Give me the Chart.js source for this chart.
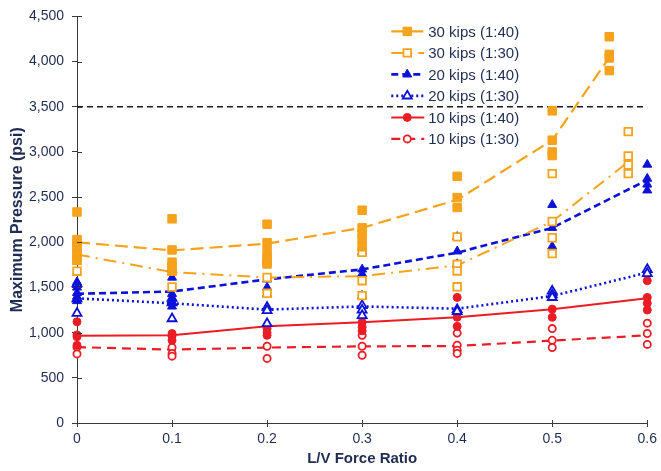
<!DOCTYPE html>
<html>
<head>
<meta charset="utf-8">
<script src="https://cdn.jsdelivr.net/npm/chart.js@4.4.1/dist/chart.umd.min.js"></script>
<style>
  html, body { margin: 0; padding: 0; background: #ffffff; }
  canvas { display: block; }
</style>
</head>
<body>
<canvas id="chart" width="661" height="471"></canvas>
<script>
// Axis ticks
const xTickValues = [0, 0.1, 0.2, 0.3, 0.4, 0.5, 0.6];
const xTickLabels = ['0', '0.1', '0.2', '0.3', '0.4', '0.5', '0.6'];
const yTickValues = [0, 500, 1000, 1500, 2000, 2500, 3000, 3500, 4000, 4500];

// Allowable pressure limit (psi)
const limitPressure = 3500;

// Measured maximum pressures: [L/V ratio, psi]
const k30r40Points = [
  [0, 2335], [0, 2030], [0, 1985], [0, 1940], [0, 1860], [0, 1800],
  [0.1, 2260], [0.1, 1915], [0.1, 1780], [0.1, 1730], [0.1, 1680],
  [0.2, 2200], [0.2, 1995], [0.2, 1900], [0.2, 1830], [0.2, 1760],
  [0.3, 2355], [0.3, 2160], [0.3, 2100], [0.3, 2040], [0.3, 1950],
  [0.4, 2730], [0.4, 2495], [0.4, 2385],
  [0.5, 3455], [0.5, 3130], [0.5, 3000], [0.5, 2960],
  [0.56, 4275], [0.56, 4080], [0.56, 4040], [0.56, 3900]
];
const k30r30Points = [
  [0, 1900], [0, 1800], [0, 1680],
  [0.1, 1680], [0.1, 1505],
  [0.2, 1790], [0.2, 1610], [0.2, 1435],
  [0.3, 1890], [0.3, 1575], [0.3, 1410],
  [0.4, 2060], [0.4, 1756], [0.4, 1683], [0.4, 1507],
  [0.5, 2760], [0.5, 2230], [0.5, 2050], [0.5, 1875],
  [0.58, 3225], [0.58, 2955], [0.58, 2855], [0.58, 2760]
];
const k20r40Points = [
  [0, 1560], [0, 1500], [0, 1440], [0, 1400], [0, 1350],
  [0.1, 1610], [0.1, 1430], [0.1, 1380], [0.1, 1340], [0.1, 1290],
  [0.2, 1790], [0.2, 1590], [0.2, 1500], [0.2, 1430],
  [0.3, 1890], [0.3, 1700], [0.3, 1650], [0.3, 1410],
  [0.4, 2060], [0.4, 1900], [0.4, 1760],
  [0.5, 2415], [0.5, 2160], [0.5, 1955],
  [0.6, 2860], [0.6, 2705], [0.6, 2640], [0.6, 2575]
];
const k20r30Points = [
  [0, 1540], [0, 1375], [0, 1215],
  [0.1, 1380], [0.1, 1330], [0.1, 1155],
  [0.2, 1280], [0.2, 1245], [0.2, 1100],
  [0.3, 1300], [0.3, 1250], [0.3, 1190],
  [0.4, 1255], [0.4, 1235],
  [0.5, 1460], [0.5, 1420], [0.5, 1390],
  [0.6, 1700], [0.6, 1655]
];
const k10r40Points = [
  [0, 1120], [0, 975], [0, 955], [0, 860],
  [0.1, 990], [0.1, 960], [0.1, 915],
  [0.2, 1045], [0.2, 1000], [0.2, 970],
  [0.3, 1115], [0.3, 1060], [0.3, 1020],
  [0.4, 1390], [0.4, 1170], [0.4, 1070],
  [0.5, 1260], [0.5, 1170],
  [0.6, 1575], [0.6, 1390], [0.6, 1325], [0.6, 1250]
];
const k10r30Points = [
  [0, 840], [0, 765],
  [0.1, 835], [0.1, 770], [0.1, 740],
  [0.2, 850], [0.2, 715],
  [0.3, 970], [0.3, 850], [0.3, 750],
  [0.4, 995], [0.4, 860], [0.4, 805], [0.4, 770],
  [0.5, 1045], [0.5, 915], [0.5, 835],
  [0.6, 1105], [0.6, 990], [0.6, 870]
];

// Trend lines through each load group
const k30r40TrendX = [0, 0.1, 0.2, 0.3, 0.4, 0.5, 0.56];
const k30r40TrendY = [2000, 1910, 1985, 2160, 2470, 3130, 4045];
const k30r30TrendX = [0, 0.1, 0.2, 0.3, 0.4, 0.5, 0.58];
const k30r30TrendY = [1865, 1670, 1610, 1625, 1745, 2230, 2890];
const k20r40TrendX = [0, 0.1, 0.2, 0.3, 0.4, 0.5, 0.6];
const k20r40TrendY = [1430, 1455, 1590, 1700, 1885, 2160, 2690];
const k20r30TrendX = [0, 0.1, 0.2, 0.3, 0.4, 0.5, 0.6];
const k20r30TrendY = [1380, 1325, 1255, 1290, 1265, 1405, 1665];
const k10r40TrendX = [0, 0.1, 0.2, 0.3, 0.4, 0.5, 0.6];
const k10r40TrendY = [965, 970, 1070, 1115, 1170, 1260, 1380];
const k10r30TrendX = [0, 0.1, 0.2, 0.3, 0.4, 0.5, 0.6];
const k10r30TrendY = [840, 812, 835, 848, 852, 912, 970];

// Series labels
const seriesLabels = ['30 kips (1:40)', '30 kips (1:30)', '20 kips (1:40)', '20 kips (1:30)', '10 kips (1:40)', '10 kips (1:30)'];

const ORANGE = '#f5a21c';
const BLUE = '#0c12d8';
const RED = '#ec1c24';
const TEXT = '#1f2c52';
const AXIS = '#3a3a3a';

const toXY = pairs => pairs.map(p => ({ x: p[0], y: p[1] }));
const zipXY = (xs, ys) => xs.map((x, i) => ({ x: x, y: ys[i] }));

const series = [
  { label: seriesLabels[0], points: k30r40Points, tx: k30r40TrendX, ty: k30r40TrendY,
    color: ORANGE, marker: 'rect', radius: 6, filled: true, dash: [13, 6], width: 2.2 },
  { label: seriesLabels[1], points: k30r30Points, tx: k30r30TrendX, ty: k30r30TrendY,
    color: ORANGE, marker: 'rect', radius: 5.4, filled: false, dash: [13, 6, 2, 6], width: 2 },
  { label: seriesLabels[2], points: k20r40Points, tx: k20r40TrendX, ty: k20r40TrendY,
    color: BLUE, marker: 'triangle', radius: 5.2, filled: true, dash: [7, 4], width: 2.6 },
  { label: seriesLabels[3], points: k20r30Points, tx: k20r30TrendX, ty: k20r30TrendY,
    color: BLUE, marker: 'triangle', radius: 5.2, filled: false, dash: [2, 3], width: 2.6 },
  { label: seriesLabels[4], points: k10r40Points, tx: k10r40TrendX, ty: k10r40TrendY,
    color: RED, marker: 'circle', radius: 4, filled: true, dash: [], width: 2 },
  { label: seriesLabels[5], points: k10r30Points, tx: k10r30TrendX, ty: k10r30TrendY,
    color: RED, marker: 'circle', radius: 3.6, filled: false, dash: [9, 6], width: 2.2 }
];

const datasets = [];
series.forEach((s, i) => {
  datasets.push({
    label: s.label,
    data: toXY(s.points),
    showLine: false,
    clip: false,
    pointStyle: s.marker,
    pointRadius: s.radius,
    pointHoverRadius: s.radius,
    pointBackgroundColor: s.filled ? s.color : '#ffffff',
    pointBorderColor: s.color,
    pointBorderWidth: s.filled ? 1 : 1.8,
    order: i
  });
  datasets.push({
    label: s.label + ' trend',
    data: zipXY(s.tx, s.ty),
    showLine: true,
    clip: false,
    borderColor: s.color,
    borderWidth: s.width,
    borderDash: s.dash,
    pointRadius: 0,
    fill: false,
    tension: 0,
    order: 10 + i
  });
});
datasets.push({
  label: 'limit',
  data: [{ x: xTickValues[0], y: limitPressure }, { x: xTickValues[xTickValues.length - 1], y: limitPressure }],
  showLine: true,
  borderColor: '#1a1a1a',
  borderWidth: 1.5,
  borderDash: [6, 4],
  pointRadius: 0,
  order: 30
});

function drawMarker(ctx, s, x, y) {
  ctx.save();
  ctx.setLineDash([]);
  ctx.fillStyle = s.filled ? s.color : '#ffffff';
  ctx.strokeStyle = s.color;
  ctx.lineWidth = s.filled ? 1 : 1.8;
  if (Chart.helpers && Chart.helpers.drawPoint) {
    Chart.helpers.drawPoint(ctx, { pointStyle: s.marker, radius: s.radius, borderWidth: ctx.lineWidth, rotation: 0 }, x, y);
  }
  ctx.restore();
}

// Legend with line sample + marker, placed inside the plot area
const insideLegend = {
  id: 'insideLegend',
  afterDraw(chart) {
    const ctx = chart.ctx;
    const area = chart.chartArea;
    const left = area.right - 256;
    const top = area.top + 15;
    const rowH = 21.5;
    ctx.save();
    ctx.font = '15px "Liberation Sans", Arial, sans-serif';
    ctx.textBaseline = 'middle';
    ctx.textAlign = 'left';
    series.forEach((s, i) => {
      const y = top + i * rowH;
      ctx.save();
      ctx.strokeStyle = s.color;
      ctx.lineWidth = s.width;
      ctx.setLineDash(s.dash);
      ctx.beginPath();
      ctx.moveTo(left, y);
      ctx.lineTo(left + 33, y);
      ctx.stroke();
      ctx.restore();
      drawMarker(ctx, s, left + 16, y);
      ctx.fillStyle = TEXT;
      ctx.fillText(s.label, left + 37, y + 1);
    });
    ctx.restore();
  }
};

// Tick marks that cross the axis lines
const crossTicks = {
  id: 'crossTicks',
  afterDraw(chart) {
    const ctx = chart.ctx;
    const xs = chart.scales.x, ys = chart.scales.y;
    const area = chart.chartArea;
    ctx.save();
    ctx.strokeStyle = AXIS;
    ctx.lineWidth = 1;
    ctx.beginPath();
    yTickValues.forEach(v => {
      const py = Math.round(ys.getPixelForValue(v)) + 0.5;
      ctx.moveTo(area.left, py);
      ctx.lineTo(area.left + 5, py);
    });
    xTickValues.forEach(v => {
      const px = Math.round(xs.getPixelForValue(v)) + 0.5;
      ctx.moveTo(px, area.bottom);
      ctx.lineTo(px, area.bottom - 3);
    });
    ctx.stroke();
    ctx.restore();
  }
};

new Chart(document.getElementById('chart'), {
  type: 'scatter',
  data: { datasets: datasets },
  options: {
    responsive: false,
    animation: false,
    devicePixelRatio: 1,
    layout: { padding: { top: 13, right: 10, left: 0, bottom: 0 } },
    plugins: {
      legend: { display: false },
      tooltip: { enabled: false }
    },
    scales: {
      x: {
        type: 'linear',
        min: 0,
        max: 0.6,
        afterBuildTicks: scale => { scale.ticks = xTickValues.map(v => ({ value: v })); },
        afterFit: scale => { scale.height = 48; },
        ticks: {
          color: TEXT,
          font: { family: '"Liberation Sans", Arial, sans-serif', size: 14 },
          padding: 4,
          callback: (v, i) => xTickLabels[i]
        },
        grid: { display: true, drawOnChartArea: false, drawTicks: true, tickLength: 4, color: AXIS },
        border: { display: true, color: AXIS, width: 1 },
        title: {
          display: true,
          text: 'L/V Force Ratio',
          color: TEXT,
          font: { family: '"Liberation Sans", Arial, sans-serif', size: 15, weight: 'bold' },
          padding: { top: 0, bottom: 3 }
        }
      },
      y: {
        type: 'linear',
        min: 0,
        max: 4500,
        afterBuildTicks: scale => { scale.ticks = yTickValues.map(v => ({ value: v })); },
        afterFit: scale => { scale.width = 77; },
        ticks: {
          color: TEXT,
          font: { family: '"Liberation Sans", Arial, sans-serif', size: 14 },
          padding: 8,
          callback: v => v.toLocaleString('en-US')
        },
        grid: { display: true, drawOnChartArea: false, drawTicks: true, tickLength: 5, color: AXIS },
        border: { display: true, color: AXIS, width: 1 },
        title: {
          display: true,
          text: 'Maximum Pressure (psi)',
          color: TEXT,
          font: { family: '"Liberation Sans", Arial, sans-serif', size: 16, weight: 'bold' },
          padding: { top: 8, bottom: 0 }
        }
      }
    }
  },
  plugins: [insideLegend, crossTicks]
});
</script>
</body>
</html>
